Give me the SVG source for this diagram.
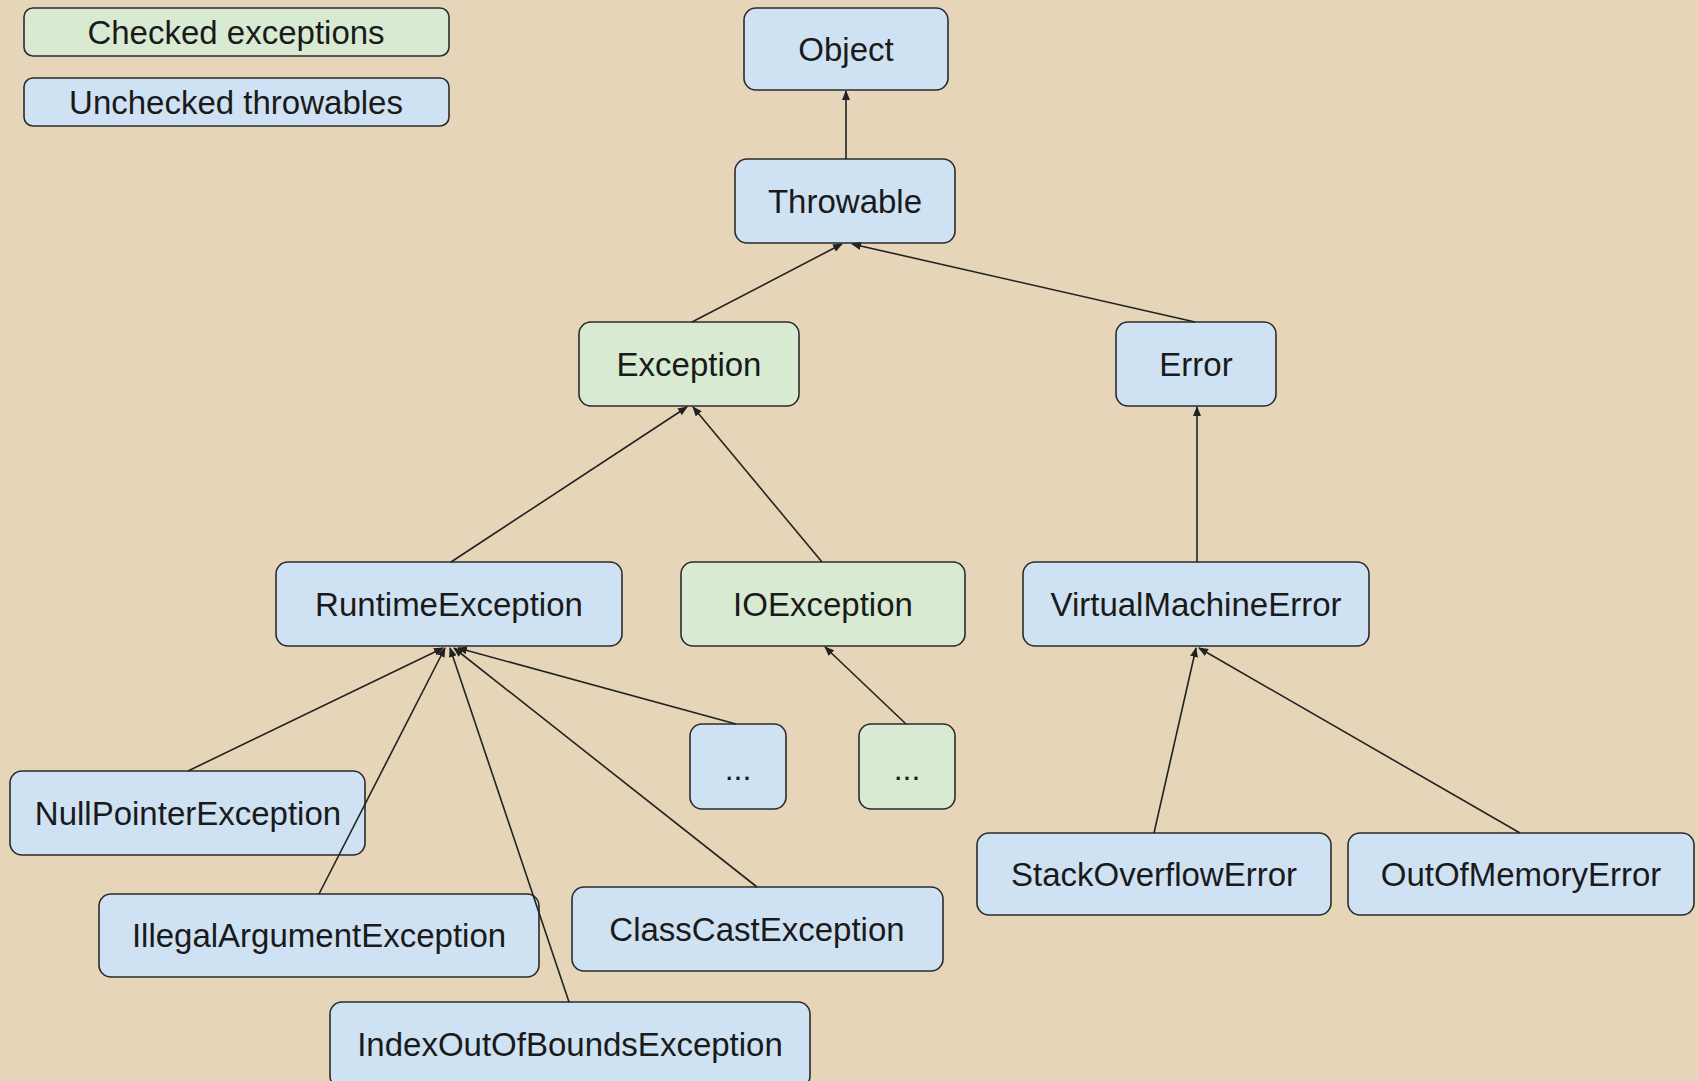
<svg xmlns="http://www.w3.org/2000/svg" width="1698" height="1081" viewBox="0 0 1698 1081">
<style>
.bg{fill:#e6d5b9}
.n rect{stroke:#2b2b2b;stroke-width:1.6}
.u rect{fill:#cfe2f3}
.c rect{fill:#d9ead3}
text{font-family:"Liberation Sans",Arial,sans-serif;font-size:33px;fill:#1a1a1a;text-anchor:middle}
text.d{font-size:32px}
#connectors line{stroke:#222;stroke-width:1.6;fill:none;marker-end:url(#ah)}
</style>
<defs>
<marker id="ah" markerUnits="userSpaceOnUse" markerWidth="10" markerHeight="8" refX="9" refY="4" orient="auto">
<path d="M0,0 L10,4 L0,8 z" fill="#222"/>
</marker>
</defs>
<rect class="bg" x="0" y="0" width="1698" height="1081"/>

<g id="legend-checked" class="n c"><rect x="24" y="8" width="425" height="48" rx="9"/><text x="236" y="44">Checked exceptions</text></g>
<g id="legend-unchecked" class="n u"><rect x="24" y="78" width="425" height="48" rx="9"/><text x="236" y="114">Unchecked throwables</text></g>

<g id="object" class="n u"><rect x="744" y="8" width="204" height="82" rx="12"/><text x="846" y="61">Object</text></g>
<g id="throwable" class="n u"><rect x="735" y="159" width="220" height="84" rx="12"/><text x="845" y="213">Throwable</text></g>
<g id="exception" class="n c"><rect x="579" y="322" width="220" height="84" rx="12"/><text x="689" y="376">Exception</text></g>
<g id="error" class="n u"><rect x="1116" y="322" width="160" height="84" rx="12"/><text x="1196" y="376">Error</text></g>
<g id="runtimeexception" class="n u"><rect x="276" y="562" width="346" height="84" rx="12"/><text x="449" y="616">RuntimeException</text></g>
<g id="ioexception" class="n c"><rect x="681" y="562" width="284" height="84" rx="12"/><text x="823" y="616">IOException</text></g>
<g id="virtualmachineerror" class="n u"><rect x="1023" y="562" width="346" height="84" rx="12"/><text x="1196" y="616">VirtualMachineError</text></g>
<g id="more-unchecked" class="n u"><rect x="690" y="724" width="96" height="85" rx="12"/><text class="d" x="738" y="780">...</text></g>
<g id="more-checked" class="n c"><rect x="859" y="724" width="96" height="85" rx="12"/><text class="d" x="907" y="780">...</text></g>
<g id="nullpointerexception" class="n u"><rect x="10" y="771" width="355" height="84" rx="12"/><text x="188" y="825">NullPointerException</text></g>
<g id="illegalargumentexception" class="n u"><rect x="99" y="894" width="440" height="83" rx="12"/><text x="319" y="947">IllegalArgumentException</text></g>
<g id="classcastexception" class="n u"><rect x="572" y="887" width="371" height="84" rx="12"/><text x="757" y="941">ClassCastException</text></g>
<g id="indexoutofboundsexception" class="n u"><rect x="330" y="1002" width="480" height="86" rx="12"/><text x="570" y="1056">IndexOutOfBoundsException</text></g>
<g id="stackoverflowerror" class="n u"><rect x="977" y="833" width="354" height="82" rx="12"/><text x="1154" y="886">StackOverflowError</text></g>
<g id="outofmemoryerror" class="n u"><rect x="1348" y="833" width="346" height="82" rx="12"/><text x="1521" y="886">OutOfMemoryError</text></g>

<g id="connectors">
<line x1="846" y1="159" x2="846" y2="91"/>
<line x1="692" y1="322" x2="842" y2="244"/>
<line x1="1195" y1="322" x2="852" y2="244"/>
<line x1="1197" y1="562" x2="1197" y2="407"/>
<line x1="451" y1="562" x2="687" y2="407"/>
<line x1="822" y1="562" x2="693" y2="407"/>
<line x1="906" y1="724" x2="825" y2="647"/>
<line x1="736" y1="724" x2="458" y2="648"/>
<line x1="188" y1="771" x2="443" y2="648"/>
<line x1="319" y1="894" x2="445" y2="648"/>
<line x1="569" y1="1002" x2="450" y2="648"/>
<line x1="757" y1="887" x2="454" y2="648"/>
<line x1="1154" y1="833" x2="1196" y2="648"/>
<line x1="1520" y1="833" x2="1199" y2="648"/>
</g>
</svg>
